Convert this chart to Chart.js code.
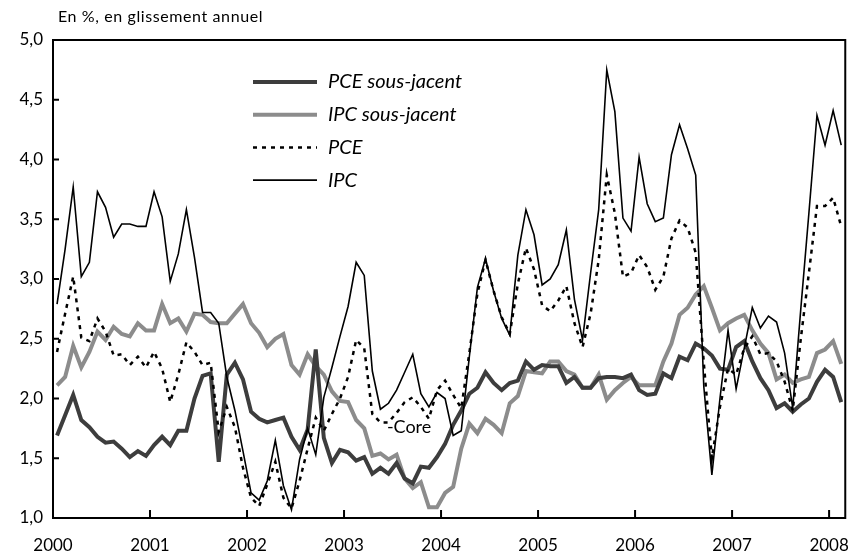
<!DOCTYPE html>
<html><head><meta charset="utf-8">
<script src="https://cdn.jsdelivr.net/npm/chart.js@4/dist/chart.umd.min.js"></script>
<style>html,body{margin:0;padding:0;background:#fff}#wrap{width:866px;height:557px;position:relative}</style>
</head><body><div id="wrap"><canvas id="c"></canvas></div>
<script>
// Monthly data, Jan 2000 .. Feb 2008 (98 months), % y/y
const years = [2000,2001,2002,2003,2004,2005,2006,2007,2008];
const yTicks = [1.0,1.5,2.0,2.5,3.0,3.5,4.0,4.5,5.0];
const seriesNames = ['PCE sous-jacent','IPC sous-jacent','PCE','IPC'];
const titleText = 'En %, en glissement annuel';
const noteText = '-Core';

const pceCore = [1.69,1.86,2.03,1.82,1.76,1.68,1.63,1.64,1.58,1.51,1.56,1.52,
1.61,1.68,1.61,1.73,1.73,2.00,2.19,2.21,1.47,2.20,2.30,2.16,
1.89,1.83,1.80,1.82,1.84,1.68,1.57,1.74,2.41,1.67,1.46,1.57,
1.55,1.48,1.51,1.37,1.42,1.37,1.46,1.33,1.29,1.43,1.42,1.51,
1.62,1.78,1.90,2.04,2.09,2.22,2.13,2.07,2.13,2.15,2.31,2.24,
2.28,2.27,2.27,2.13,2.18,2.09,2.09,2.17,2.18,2.18,2.17,2.20,
2.07,2.03,2.04,2.21,2.17,2.35,2.32,2.46,2.42,2.36,2.25,2.24,
2.43,2.48,2.31,2.17,2.07,1.92,1.96,1.89,1.95,2.00,2.14,2.24,
2.18,1.97];

const ipcCore = [2.11,2.18,2.44,2.26,2.39,2.56,2.49,2.60,2.54,2.52,2.63,2.57,
2.57,2.79,2.63,2.67,2.56,2.71,2.70,2.64,2.63,2.63,2.71,2.79,
2.63,2.55,2.43,2.50,2.54,2.28,2.20,2.37,2.27,2.20,2.06,1.98,
1.97,1.82,1.75,1.52,1.54,1.49,1.53,1.33,1.25,1.30,1.09,1.09,
1.21,1.26,1.58,1.79,1.71,1.83,1.78,1.71,1.96,2.02,2.23,2.22,
2.21,2.31,2.31,2.23,2.20,2.09,2.09,2.20,1.99,2.07,2.13,2.18,
2.11,2.11,2.11,2.31,2.46,2.70,2.76,2.87,2.94,2.76,2.57,2.63,
2.67,2.70,2.57,2.46,2.38,2.16,2.20,2.13,2.16,2.18,2.38,2.41,
2.48,2.29];

const pce = [2.39,2.71,3.02,2.51,2.48,2.67,2.56,2.36,2.37,2.28,2.35,2.26,
2.39,2.25,1.97,2.20,2.47,2.39,2.28,2.30,1.72,1.93,1.76,1.42,
1.17,1.10,1.28,1.47,1.17,1.08,1.31,1.58,1.84,1.73,1.87,2.00,
2.18,2.49,2.42,1.87,1.80,1.80,1.88,1.97,2.01,1.93,1.83,2.07,
2.15,2.03,1.92,2.38,2.88,3.16,2.90,2.68,2.54,2.96,3.26,3.08,
2.78,2.73,2.82,2.94,2.63,2.43,2.71,3.16,3.87,3.55,3.02,3.05,
3.20,3.10,2.91,3.02,3.34,3.49,3.43,3.22,2.30,1.50,1.93,2.25,
2.20,2.42,2.52,2.37,2.38,2.31,2.14,1.90,2.50,3.05,3.61,3.61,
3.68,3.44];

const ipc = [2.79,3.25,3.77,3.02,3.14,3.73,3.60,3.35,3.46,3.46,3.44,3.44,
3.73,3.52,2.98,3.21,3.58,3.18,2.72,2.72,2.63,2.18,1.90,1.56,
1.21,1.15,1.31,1.65,1.27,1.07,1.49,1.75,1.53,2.01,2.26,2.52,
2.77,3.14,3.03,2.23,1.91,1.96,2.07,2.22,2.37,2.04,1.93,2.05,
2.00,1.69,1.73,2.35,2.93,3.17,2.90,2.67,2.53,3.20,3.58,3.37,
2.95,3.00,3.12,3.41,2.83,2.49,3.05,3.58,4.75,4.40,3.51,3.40,
4.02,3.63,3.48,3.51,4.04,4.29,4.09,3.87,2.10,1.36,2.00,2.57,
2.08,2.42,2.76,2.59,2.69,2.64,2.38,1.92,2.75,3.55,4.37,4.12,
4.41,4.12];

// month index -> x position (mid-month)
const toPts = arr => arr.map((v, i) => ({x: i + 0.5, y: v}));
const yearPos = years.map(y => (y - years[0]) * 12);
const nMonths = 98;

const FONT = 'Lato, "Open Sans", sans-serif';

const framePlugin = {
  id: 'frame',
  afterDraw(chart) {
    const {ctx, chartArea: a, scales} = chart;
    ctx.save();
    ctx.strokeStyle = '#000';
    ctx.lineWidth = 2;
    ctx.strokeRect(a.left, a.top, a.right - a.left, a.bottom - a.top);
    // inward ticks
    ctx.beginPath();
    scales.y.ticks.forEach(t => {
      const py = scales.y.getPixelForValue(t.value);
      ctx.moveTo(a.left, py); ctx.lineTo(a.left + 6, py);
    });
    scales.x.ticks.forEach(t => {
      const px = scales.x.getPixelForValue(t.value);
      ctx.moveTo(px, a.bottom); ctx.lineTo(px, a.bottom - 8);
    });
    ctx.stroke();
    // title
    ctx.fillStyle = '#000';
    ctx.font = '16px ' + FONT;
    ctx.textBaseline = 'middle';
    ctx.textAlign = 'left';
    try { ctx.letterSpacing = '0.6px'; } catch (e) {}
    ctx.fillText(titleText, a.left + 5, 17);
    try { ctx.letterSpacing = '0px'; } catch (e) {}
    // note label
    ctx.font = '18px ' + FONT;
    ctx.fillText(noteText, scales.x.getPixelForValue(41.3), scales.y.getPixelForValue(1.76));
    // legend
    const lx0 = a.left + 200, lx1 = a.left + 264, tx = a.left + 275;
    let ly = a.top + 42;
    ctx.font = 'italic 20px ' + FONT;
    chart.data.datasets.forEach(ds => {
      ctx.save();
      ctx.strokeStyle = ds.borderColor;
      ctx.lineWidth = ds.borderWidth;
      ctx.setLineDash(ds.borderDash || []);
      ctx.beginPath(); ctx.moveTo(lx0, ly); ctx.lineTo(lx1, ly); ctx.stroke();
      ctx.restore();
      ctx.fillText(ds.label, tx, ly);
      ly += 32.7;
    });
    ctx.restore();
  }
};

new Chart(document.getElementById('c'), {
  type: 'line',
  data: {
    datasets: [
      {label: seriesNames[0], data: toPts(pceCore), borderColor: '#3d3d3d', borderWidth: 4, order: 2},
      {label: seriesNames[1], data: toPts(ipcCore), borderColor: '#8c8c8c', borderWidth: 4, order: 3},
      {label: seriesNames[2], data: toPts(pce), borderColor: '#000', borderWidth: 2.5, borderDash: [4, 5], order: 1},
      {label: seriesNames[3], data: toPts(ipc), borderColor: '#000', borderWidth: 1.6, order: 0}
    ]
  },
  options: {
    responsive: true,
    maintainAspectRatio: false,
    animation: false,
    events: [],
    elements: {point: {radius: 0}, line: {tension: 0, borderCapStyle: 'butt', borderJoinStyle: 'miter'}},
    layout: {padding: {top: 40, right: 9, left: 0, bottom: 0}},
    plugins: {legend: {display: false}, tooltip: {enabled: false}, title: {display: false}},
    scales: {
      x: {
        type: 'linear', min: 0, max: nMonths,
        grid: {display: false, drawTicks: false},
        border: {display: false},
        afterBuildTicks: s => { s.ticks = yearPos.map(v => ({value: v})); },
        afterFit: s => { s.height = 39; },
        ticks: {
          padding: 17, color: '#000', font: {family: FONT, size: 17},
          maxRotation: 0, autoSkip: false,
          callback: v => String(years[0] + Math.round(v / 12))
        }
      },
      y: {
        type: 'linear', min: 1, max: 5,
        grid: {display: false, drawTicks: false},
        border: {display: false},
        afterBuildTicks: s => { s.ticks = yTicks.map(v => ({value: v})); },
        afterFit: s => { s.width = 53; },
        ticks: {
          padding: 10, color: '#000', font: {family: FONT, size: 17},
          callback: v => v.toFixed(1).replace('.', ',')
        }
      }
    }
  },
  plugins: [framePlugin]
});
</script></body></html>
